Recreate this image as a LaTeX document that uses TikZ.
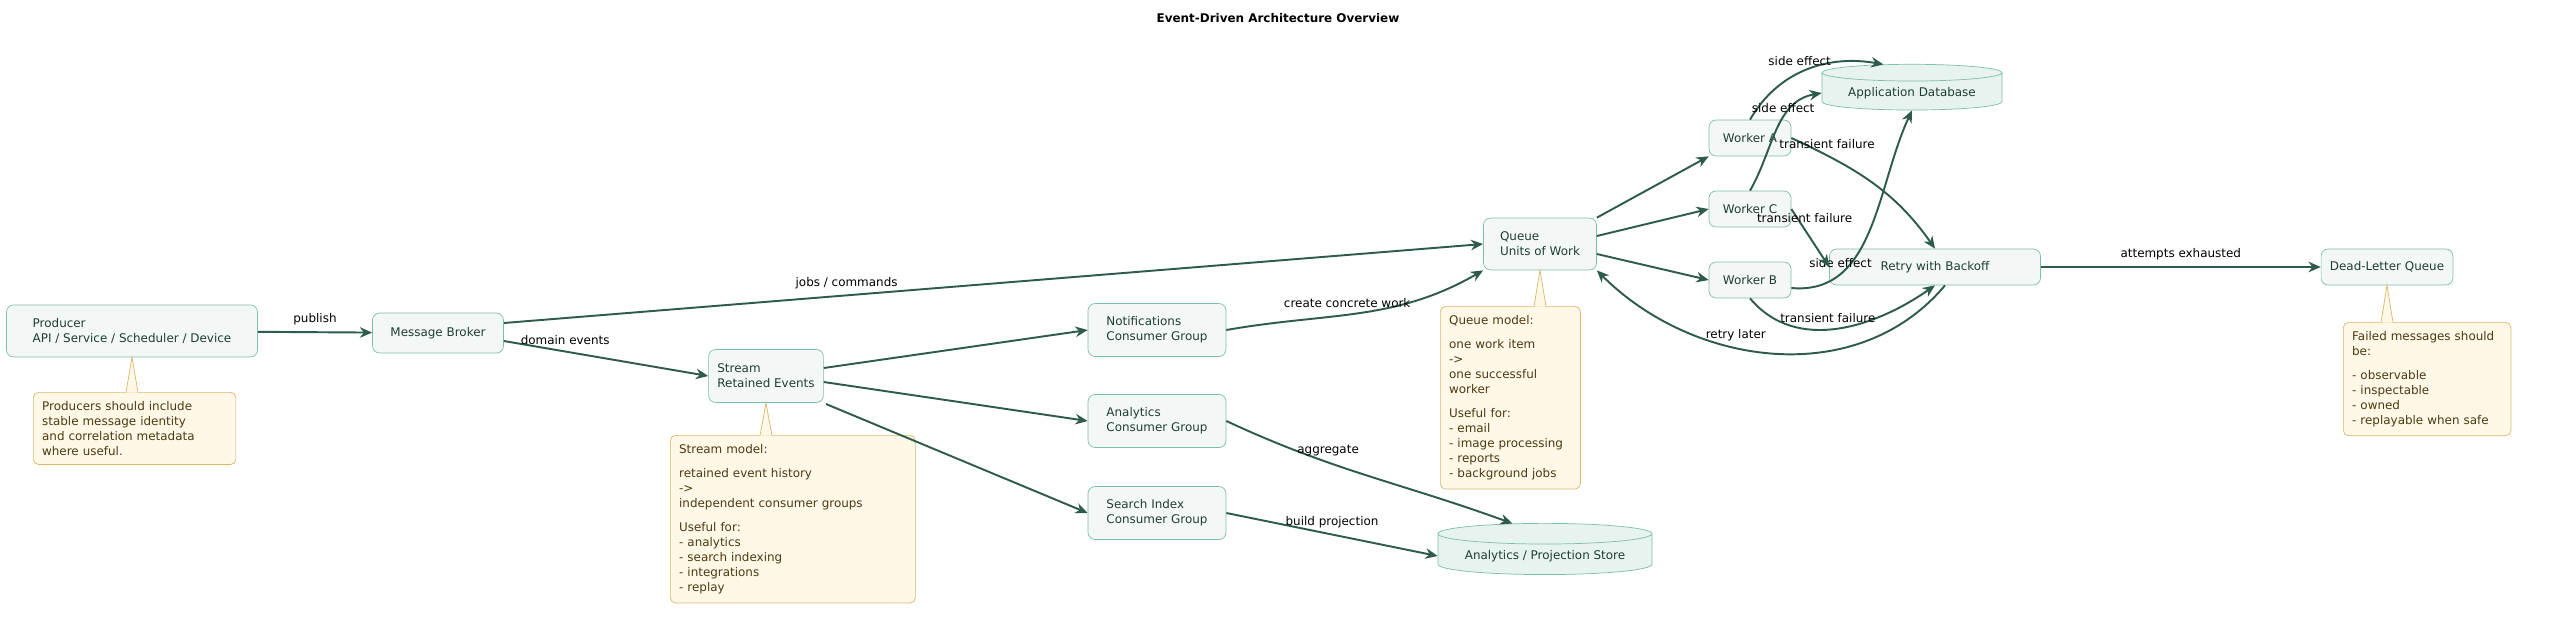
\documentclass[tikz,border=0pt]{standalone}
\usepackage{fontspec}
\setmainfont{DejaVu Sans}
\usetikzlibrary{shapes.geometric,arrows.meta}
\definecolor{boxfill}{HTML}{F3F8F6}
\definecolor{boxline}{HTML}{7DBFA6}
\definecolor{boxtext}{HTML}{1F3D33}
\definecolor{wire}{HTML}{2E5B4A}
\definecolor{notefill}{HTML}{FFF8E7}
\definecolor{noteline}{HTML}{D6B86E}
\definecolor{notetext}{HTML}{4A3A14}
\definecolor{dbfill}{HTML}{E6F3EE}
\tikzset{
  svc/.style={draw=boxline, fill=boxfill, text=boxtext, rounded corners=4pt, align=left,
    font=\fontsize{6.8}{8.6}\selectfont, inner xsep=5pt},
  store/.style={cylinder, shape border rotate=90, aspect=0.12, draw=boxline, fill=dbfill,
    text=boxtext, font=\fontsize{6.8}{8.6}\selectfont},
  memo/.style={draw=noteline, fill=notefill, text=notetext, rounded corners=3pt, align=left,
    anchor=north west, font=\fontsize{6.8}{8.6}\selectfont, inner sep=5pt},
  flow/.style={draw=wire, line width=1.1pt, -{Stealth[length=7pt,width=6pt]}},
  tag/.style={font=\fontsize{6.8}{8}\selectfont, text=black},
  tail/.style={draw=noteline, fill=notefill, line width=0.4pt}
}
\begin{document}
\begin{tikzpicture}[x=0.02cm,y=-0.02cm]
\useasboundingbox (0,0) rectangle (2557,629);
\node[font=\bfseries\fontsize{6.8}{8}\selectfont] (title) at (1278,18) {Event-Driven Architecture Overview};

% services
\node[svc, minimum width=5.02cm, minimum height=1.04cm] (producer) at (132,331) {Producer\\API / Service / Scheduler / Device};
\node[svc, minimum width=2.62cm, minimum height=0.8cm] (broker) at (438,333) {Message Broker};
\node[svc, minimum width=1.76cm, minimum height=1.06cm] (stream) at (766,376) {Stream\\Retained Events};
\node[svc, minimum width=2.76cm, minimum height=1.06cm] (notif) at (1157,330) {Notifications\\Consumer Group};
\node[svc, minimum width=2.76cm, minimum height=1.06cm] (analytics) at (1157,421) {Analytics\\Consumer Group};
\node[svc, minimum width=2.76cm, minimum height=1.06cm] (search) at (1157,513) {Search Index\\Consumer Group};
\node[svc, minimum width=2.26cm, minimum height=1.04cm] (queue) at (1540,244) {Queue\\Units of Work};
\node[svc, minimum width=1.64cm, minimum height=0.72cm] (workerA) at (1750,138) {Worker A};
\node[svc, minimum width=1.64cm, minimum height=0.72cm] (workerC) at (1750,209) {Worker C};
\node[svc, minimum width=1.64cm, minimum height=0.72cm] (workerB) at (1750,280) {Worker B};
\node[svc, minimum width=4.22cm, minimum height=0.72cm] (retry) at (1935,267) {Retry with Backoff};
\node[svc, minimum width=2.62cm, minimum height=0.72cm] (dlq) at (2387,267) {Dead-Letter Queue};
\node[store, minimum width=3.6cm, minimum height=0.9cm] (appdb) at (1912,93) {Application Database};
\node[store, minimum width=4.28cm, minimum height=0.86cm] (projdb) at (1545,556) {Analytics / Projection Store};

% notes
\node[memo, text width=3.7cm] (noteProd) at (33,392) {Producers should include\\stable message identity\\and correlation metadata\\where useful.};
\node[memo, text width=4.55cm] (noteStream) at (670,435) {Stream model:\\[5pt]retained event history\\->\\independent consumer groups\\[5pt]Useful for:\\- analytics\\- search indexing\\- integrations\\- replay};
\node[memo, text width=2.45cm] (noteQueue) at (1440,306) {Queue model:\\[5pt]one work item\\->\\one successful worker\\[5pt]Useful for:\\- email\\- image processing\\- reports\\- background jobs};
\node[memo, text width=3.0cm] (noteDlq) at (2343,322) {Failed messages should be:\\[5pt]- observable\\- inspectable\\- owned\\- replayable when safe};
\fill[tail] (126,392.5) -- (132,357) -- (138,392.5);
\fill[tail] (760,435.5) -- (766,403) -- (772,435.5);
\fill[tail] (1534,306.5) -- (1540,270) -- (1546,306.5);
\fill[tail] (2381,322.5) -- (2387,285) -- (2393,322.5);

% connectors
\draw[flow] (producer) -- node[tag, above] {publish} (broker);
\draw[flow] (broker.east) ++(0,-10) coordinate (b1) (b1) -- node[tag, above, pos=0.35] {jobs / commands} (queue.west);
\draw[flow] (broker.east) ++(0,8) coordinate (b2) (b2) -- node[tag, above, pos=0.3] {domain events} (stream.west);
\draw[flow] (stream.east) ++(0,-8) coordinate (s1) (s1) -- (notif.west);
\draw[flow] (stream.east) ++(0,6) coordinate (s2) (s2) -- (analytics.west);
\draw[flow] (stream) ++(60,28) coordinate (s3) (s3) -- (search.west);
\draw[flow] (notif.east) to[out=10, in=210] node[tag, above, pos=0.45] {create concrete work} (queue.south west);
\draw[flow] (analytics.east) to[out=-25, in=160] node[tag, above, pos=0.35] {aggregate} (projdb.north west);
\draw[flow] (search.east) -- node[tag, above] {build projection} (projdb.west);
\draw[flow] (queue.north east) -- (workerA.south west);
\draw[flow] (queue.east) ++(0,-8) coordinate (q1) (q1) -- (workerC.west);
\draw[flow] (queue.east) ++(0,10) coordinate (q2) (q2) -- (workerB.west);
\draw[flow] (workerA.north) to[out=60, in=170] node[tag, above, pos=0.45] {side effect} (appdb.north west);
\draw[flow] (workerC.north) to[out=60, in=190] node[tag, above, pos=0.6] {side effect} (appdb.west);
\draw[flow] (workerB.east) ++(0,8) coordinate (wb1) (wb1) to[out=-5, in=245] node[tag, above, pos=0.25] {side effect} (appdb.south);
\draw[flow] (workerA.east) to[out=-25, in=125] node[tag, above, pos=0.2] {transient failure} (retry.north);
\draw[flow] (workerC.east) -- node[tag, above, pos=0.35] {transient failure} (retry.west);
\draw[flow] (workerB.south) to[out=-50, in=215] node[tag, above, pos=0.45] {transient failure} (retry.south);
\draw[flow] (retry.south) ++(10,0) coordinate (r1) (r1) to[out=230, in=-45] node[tag, above, pos=0.6] {retry later} (queue.south east);
\draw[flow] (retry) -- node[tag, above] {attempts exhausted} (dlq);
\end{tikzpicture}
\end{document}
